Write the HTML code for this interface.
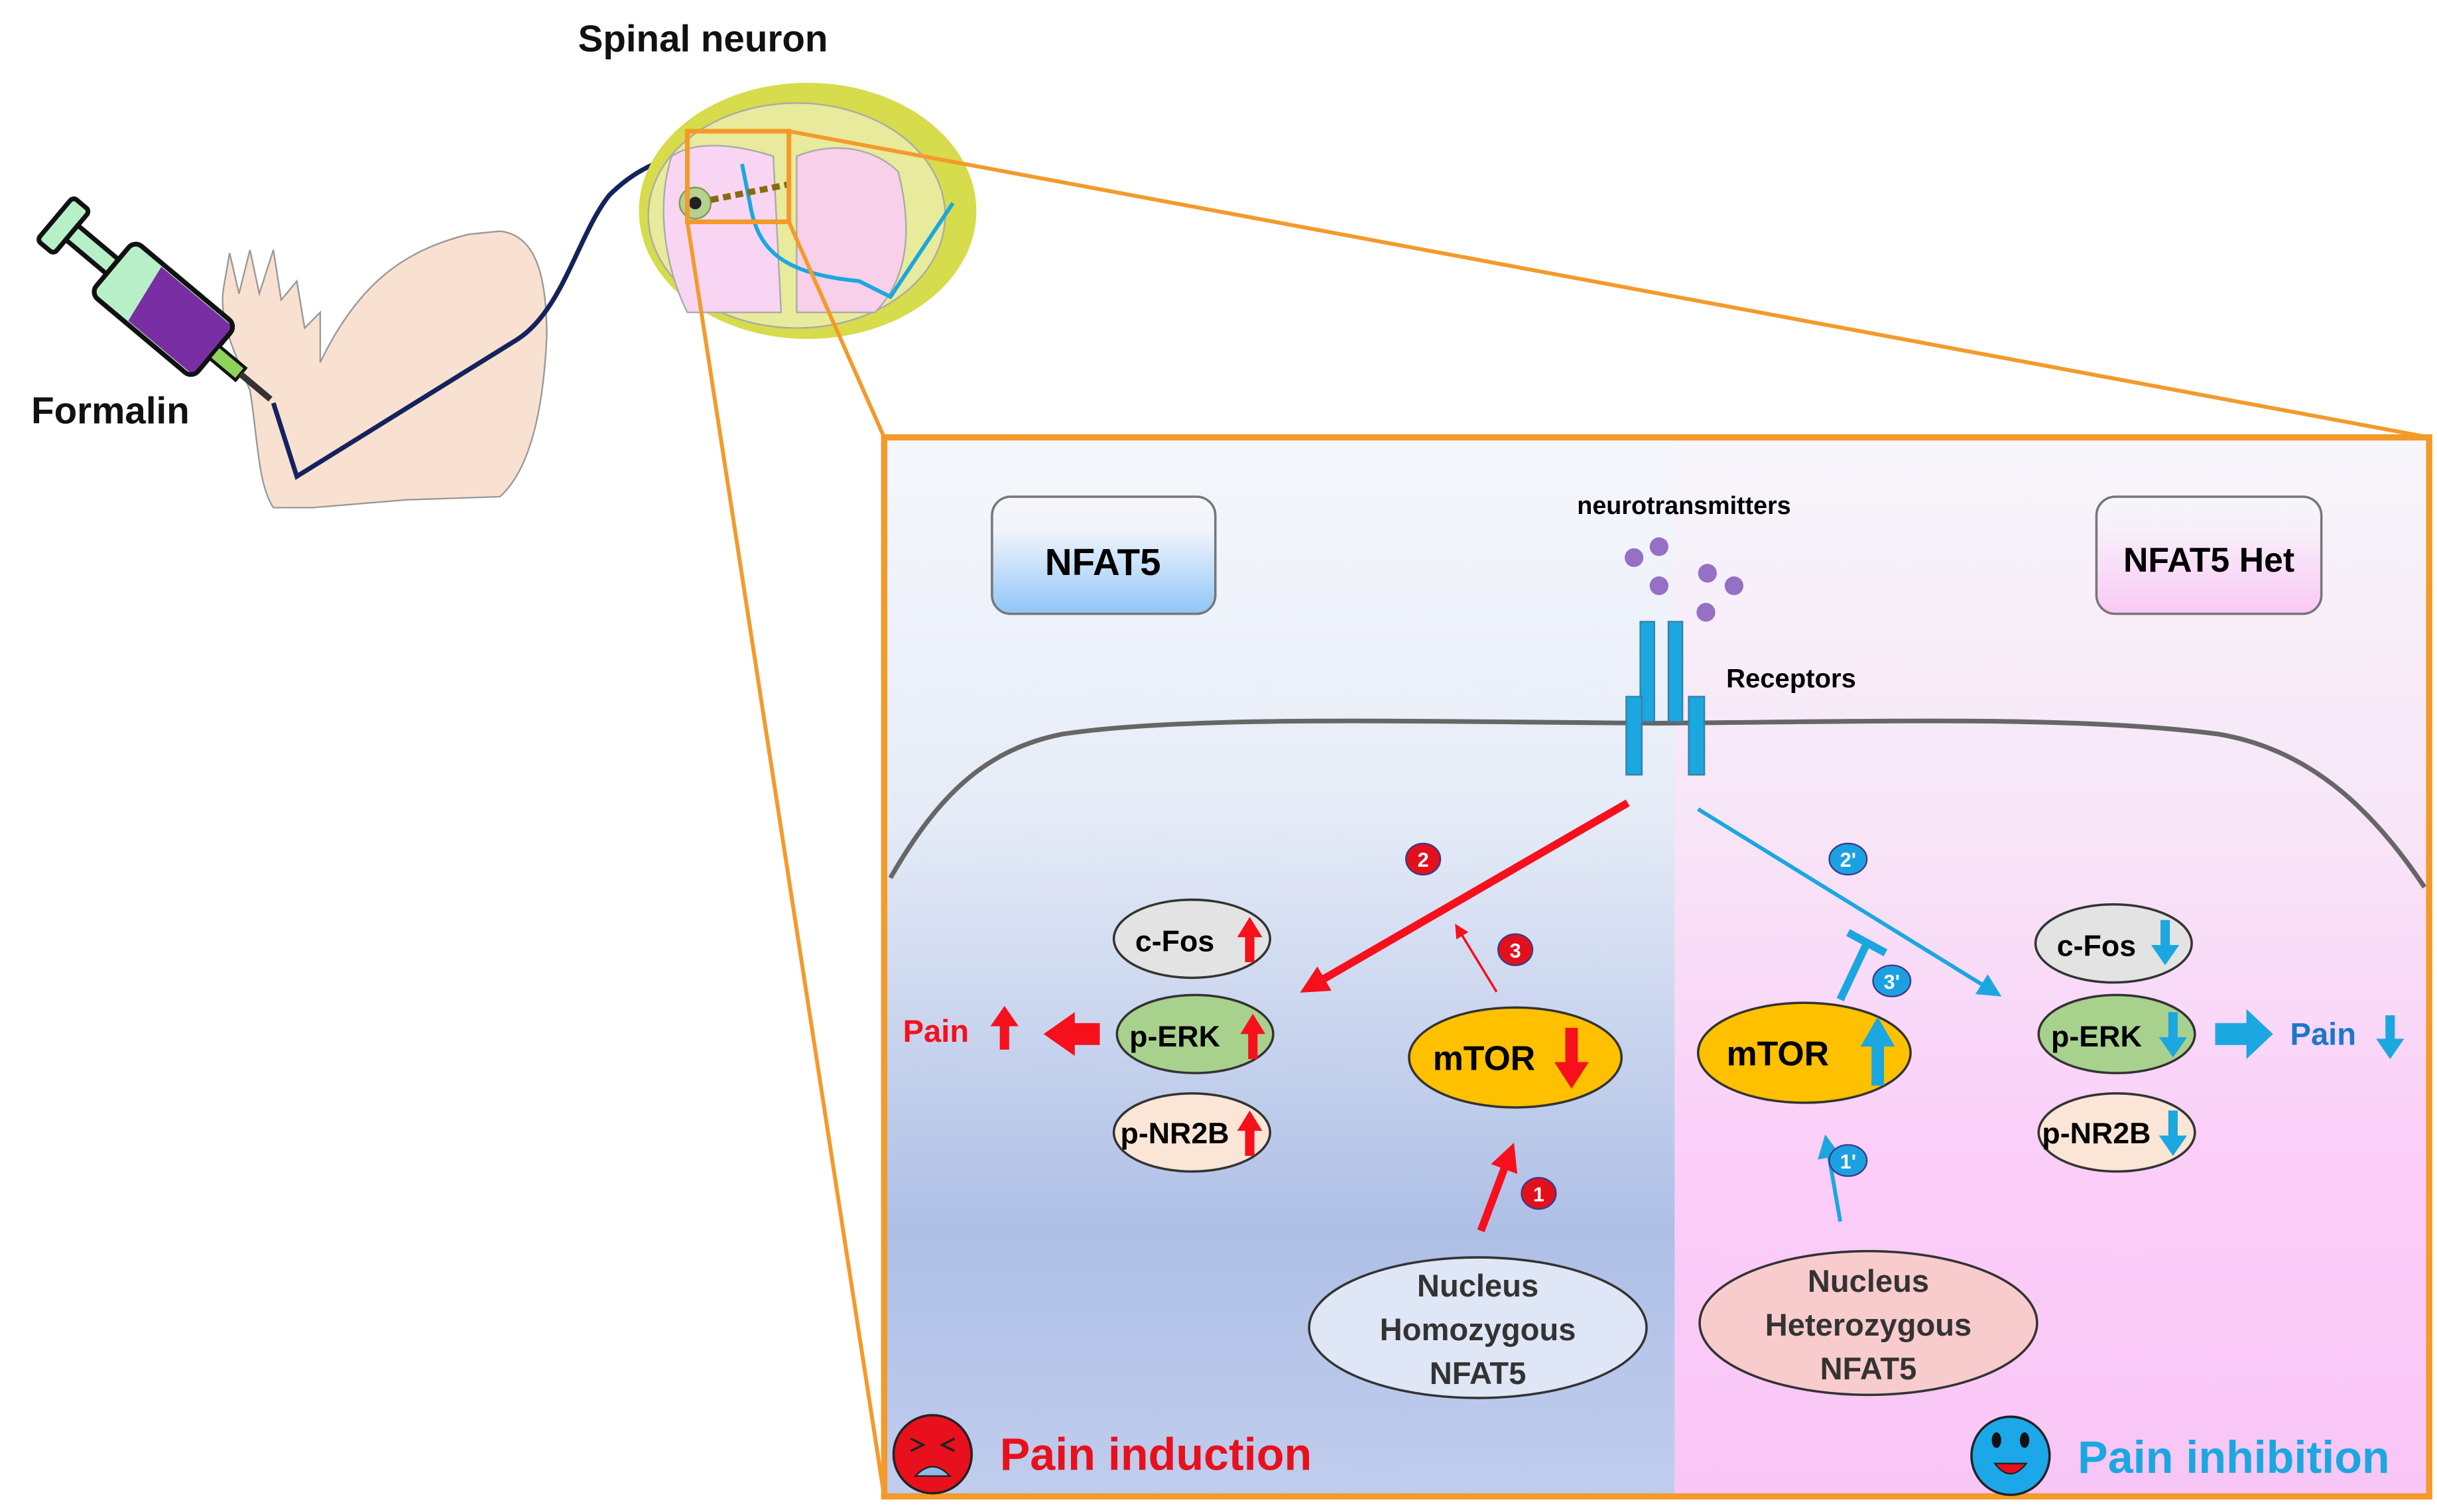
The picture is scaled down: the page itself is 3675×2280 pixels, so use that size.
<!DOCTYPE html>
<html><head><meta charset="utf-8"><style>
html,body{margin:0;padding:0;background:#fff;}
svg{display:block;}
text{font-family:"Liberation Sans",Arial,sans-serif;font-weight:bold;}
</style></head><body>
<svg width="3675" height="2280" viewBox="0 0 1560 968" preserveAspectRatio="none" xmlns="http://www.w3.org/2000/svg">
<defs>
<linearGradient id="gl" x1="0" y1="0" x2="0" y2="1"><stop offset="0" stop-color="#f6f7fc"/><stop offset="0.35" stop-color="#e6ecf7"/><stop offset="0.75" stop-color="#aebfe6"/><stop offset="1" stop-color="#c1cdee"/></linearGradient>
<linearGradient id="gr" x1="0" y1="0" x2="0" y2="1"><stop offset="0" stop-color="#f7f6fb"/><stop offset="0.35" stop-color="#f7e6f7"/><stop offset="0.7" stop-color="#fbcdf8"/><stop offset="1" stop-color="#f8c6f6"/></linearGradient>
<linearGradient id="bb" x1="0" y1="0" x2="0" y2="1"><stop offset="0" stop-color="#f6f7fc"/><stop offset="0.3" stop-color="#f0f3fb"/><stop offset="1" stop-color="#8fc6f7"/></linearGradient>
<linearGradient id="pb" x1="0" y1="0" x2="0" y2="1"><stop offset="0" stop-color="#f6f7fc"/><stop offset="0.3" stop-color="#f7eef9"/><stop offset="1" stop-color="#fac8f6"/></linearGradient>
<marker id="ar" viewBox="0 0 6 6" markerWidth="6" markerHeight="6" refX="4" refY="3" orient="auto" markerUnits="strokeWidth"><path d="M0,0 L6,3 L0,6 z" fill="#f5101c"/></marker>
<marker id="ar2" viewBox="0 0 6 6" markerWidth="3.6" markerHeight="3.6" refX="3" refY="3" orient="auto" markerUnits="strokeWidth"><path d="M0,0 L6,3 L0,6 z" fill="#f5101c"/></marker>
<marker id="ab" viewBox="0 0 8 8" markerWidth="6" markerHeight="6" refX="6" refY="4" orient="auto" markerUnits="strokeWidth"><path d="M0,0 L8,4 L0,8 z" fill="#1aa7e0"/></marker>
</defs>

<text x="370" y="33" font-size="24" fill="#111">Spinal neuron</text>
<text x="20" y="271" font-size="24" fill="#111">Formalin</text>

<!-- leg -->
<path d="M160,250 C150,225 140,205 143,185 L147,162 L153,188 L160,160 L166,188 L175,160 L180,192 L190,180 L195,210 L205,200 L205,232 C230,180 260,160 300,150 L320,148 C340,150 350,170 350,215 C348,260 340,300 320,318 L260,320 L200,325 L175,325 C165,310 165,280 160,250 Z" fill="#f9e1d1" stroke="#999" stroke-width="1"/>
<!-- syringe -->
<g transform="translate(95,190) rotate(-50)">
<rect x="-18" y="-78" width="36" height="14" rx="3" fill="#b7f0c7" stroke="#111" stroke-width="3"/>
<rect x="-6" y="-64" width="12" height="34" fill="#b7f0c7" stroke="#111" stroke-width="3"/>
<rect x="-22" y="-30" width="44" height="85" rx="6" fill="#b7f0c7" stroke="#111" stroke-width="3"/>
<path d="M-20,0 L20,-6 L20,50 Q20,55 14,55 L-14,55 Q-20,55 -20,50 Z" fill="#7a2ea3"/>
<rect x="-22" y="-30" width="44" height="85" rx="6" fill="none" stroke="#111" stroke-width="3"/>
<rect x="-5" y="55" width="10" height="22" fill="#8fd35a" stroke="#111" stroke-width="2"/>
<rect x="-2" y="77" width="4" height="25" fill="#333"/>
</g>
<path d="M175,258 L190,305 L330,218 C360,200 370,150 390,125 C410,105 430,100 445,98 L470,100" fill="none" stroke="#14235e" stroke-width="3"/>
<!-- spinal cord -->
<ellipse cx="517" cy="135" rx="108" ry="82" fill="#d6dc4b"/>
<ellipse cx="510" cy="138" rx="95" ry="72" fill="#e8ea9c" stroke="#aaa" stroke-width="1"/>
<path d="M430,100 C445,90 470,92 495,100 L500,200 L440,200 C425,170 420,130 430,100 Z" fill="#f8d6f3" stroke="#aaa"/>
<path d="M510,100 C535,90 560,95 575,110 C585,150 580,180 560,200 L510,200 Z" fill="#f8d0ea" stroke="#aaa"/>
<path d="M475,105 L480,130 C485,160 500,175 550,180 L570,190 L610,130" fill="none" stroke="#1ba7e0" stroke-width="2.5"/>
<circle cx="445" cy="130" r="10" fill="#b5d08f" stroke="#7a9a50"/>
<circle cx="445" cy="130" r="4" fill="#222"/>
<path d="M455,128 L505,118" stroke="#8a6a10" stroke-width="4" stroke-dasharray="5,3"/>
<rect x="440" y="84" width="65" height="58" fill="none" stroke="#f39a2b" stroke-width="3"/>
<line x1="505" y1="84" x2="1555" y2="280" stroke="#f39a2b" stroke-width="2.5"/>
<line x1="505" y1="142" x2="566" y2="280" stroke="#f39a2b" stroke-width="2.5"/>
<line x1="440" y1="142" x2="566" y2="958" stroke="#f39a2b" stroke-width="2.5"/>

<rect x="566" y="280" width="506" height="678" fill="url(#gl)"/>
<rect x="1072" y="280" width="483" height="678" fill="url(#gr)"/>
<rect x="566" y="280" width="989" height="678" fill="none" stroke="#f39a2b" stroke-width="4"/>

<path d="M570,562 C600,510 630,480 680,470 C760,458 900,462 1060,463 C1200,462 1330,458 1420,470 C1480,480 1520,520 1552,568" fill="none" stroke="#666" stroke-width="3"/>

<rect x="635" y="318" width="143" height="75" rx="12" fill="url(#bb)" stroke="#777" stroke-width="1.5"/>
<text x="706" y="368" font-size="24" text-anchor="middle" fill="#000">NFAT5</text>
<rect x="1342" y="318" width="144" height="75" rx="12" fill="url(#pb)" stroke="#777" stroke-width="1.5"/>
<text x="1414" y="366" font-size="22" text-anchor="middle" fill="#000">NFAT5 Het</text>

<text x="1078" y="329" font-size="16" text-anchor="middle" fill="#000">neurotransmitters</text>
<g fill="#9570c4"><circle cx="1046" cy="357" r="6"/><circle cx="1062" cy="350" r="6"/><circle cx="1062" cy="375" r="6"/><circle cx="1093" cy="367" r="6"/><circle cx="1110" cy="375" r="6"/><circle cx="1092" cy="392" r="6"/></g>
<g fill="#1ba7e0" stroke="#3a7ea8" stroke-width="1">
<rect x="1050" y="398" width="9" height="64"/><rect x="1068" y="398" width="9" height="64"/>
<rect x="1041" y="446" width="10" height="50"/><rect x="1081" y="446" width="10" height="50"/></g>
<text x="1105" y="440" font-size="17" fill="#000">Receptors</text>

<line x1="1042" y1="514" x2="840" y2="631" stroke="#f5101c" stroke-width="5" marker-end="url(#ar2)"/>
<line x1="1087" y1="518" x2="1278" y2="636" stroke="#1aa7e0" stroke-width="2.5" marker-end="url(#ab)"/>
<line x1="958" y1="635" x2="933" y2="594" stroke="#f5101c" stroke-width="1.5" marker-end="url(#ar)"/>
<line x1="948" y1="788" x2="966" y2="740" stroke="#f5101c" stroke-width="5" marker-end="url(#ar2)"/>
<line x1="1178" y1="782" x2="1169" y2="730" stroke="#1aa7e0" stroke-width="2.5" marker-end="url(#ab)"/>
<line x1="1178" y1="640" x2="1195" y2="604" stroke="#1aa7e0" stroke-width="5"/>
<line x1="1183" y1="597" x2="1207" y2="610" stroke="#1aa7e0" stroke-width="5"/>

<g font-size="13" text-anchor="middle" fill="#fff">
<ellipse cx="911" cy="550" rx="11" ry="10" fill="#e3101c" stroke="#3a3a8a" stroke-width="1"/><text x="911" y="555">2</text>
<ellipse cx="970" cy="608" rx="11" ry="10" fill="#e3101c" stroke="#3a3a8a" stroke-width="1"/><text x="970" y="613">3</text>
<ellipse cx="985" cy="764" rx="11" ry="10" fill="#e3101c" stroke="#3a3a8a" stroke-width="1"/><text x="985" y="769">1</text>
<ellipse cx="1183" cy="550" rx="12" ry="10" fill="#1ba1e2" stroke="#3a3a8a" stroke-width="1"/><text x="1183" y="555">2'</text>
<ellipse cx="1211" cy="628" rx="12" ry="10" fill="#1ba1e2" stroke="#3a3a8a" stroke-width="1"/><text x="1211" y="633">3'</text>
<ellipse cx="1183" cy="743" rx="12" ry="10" fill="#1ba1e2" stroke="#3a3a8a" stroke-width="1"/><text x="1183" y="748">1'</text>
</g>

<g stroke="#333" stroke-width="1.5">
<ellipse cx="763" cy="601" rx="50" ry="25" fill="#e3e3e3"/>
<ellipse cx="765" cy="662" rx="50" ry="25" fill="#a9d18e"/>
<ellipse cx="763" cy="725" rx="50" ry="25" fill="#fbe5d6"/>
<ellipse cx="1353" cy="604" rx="50" ry="25" fill="#e3e3e3"/>
<ellipse cx="1355" cy="662" rx="50" ry="25" fill="#a9d18e"/>
<ellipse cx="1355" cy="725" rx="50" ry="25" fill="#fbe5d6"/>
<ellipse cx="970" cy="677" rx="68" ry="32" fill="#ffc000"/>
<ellipse cx="1155" cy="674" rx="68" ry="32" fill="#ffc000"/>
<ellipse cx="946" cy="850" rx="108" ry="45" fill="#dfe6f5"/>
<ellipse cx="1196" cy="847" rx="108" ry="46" fill="#f8cccc"/>
</g>
<g font-size="19" fill="#000" text-anchor="middle">
<text x="752" y="609">c-Fos</text><text x="752" y="670">p-ERK</text><text x="752" y="732">p-NR2B</text>
<text x="1342" y="612">c-Fos</text><text x="1342" y="670">p-ERK</text><text x="1342" y="732">p-NR2B</text>
</g>
<g font-size="22" fill="#000" text-anchor="middle"><text x="950" y="685">mTOR</text><text x="1138" y="682">mTOR</text></g>
<g font-size="20" fill="#333" text-anchor="middle">
<text x="946" y="830">Nucleus</text><text x="946" y="858">Homozygous</text><text x="946" y="886">NFAT5</text>
<text x="1196" y="827">Nucleus</text><text x="1196" y="855">Heterozygous</text><text x="1196" y="883">NFAT5</text>
</g>
<g fill="#f5101c">
<path d="M797,616 L797,600 L792,600 L800,587 L808,600 L803,600 L803,616Z"/>
<path d="M799,678 L799,662 L794,662 L802,649 L810,662 L805,662 L805,678Z"/>
<path d="M797,740 L797,724 L792,724 L800,711 L808,724 L803,724 L803,740Z"/>
<path d="M1002,658 L1002,680 L995,680 L1006,697 L1017,680 L1010,680 L1010,658Z"/>
<path d="M640,672 L640,657 L634,657 L643,644 L652,657 L646,657 L646,672Z"/>
<path d="M704,655 L688,655 L688,648 L668,662 L688,676 L688,669 L704,669Z"/>
</g>
<g fill="#1ba7e0">
<path d="M1383,589 L1383,605 L1377,605 L1386,618 L1395,605 L1389,605 L1389,589Z"/>
<path d="M1388,648 L1388,664 L1382,664 L1391,677 L1400,664 L1394,664 L1394,648Z"/>
<path d="M1388,711 L1388,727 L1382,727 L1391,740 L1400,727 L1394,727 L1394,711Z"/>
<path d="M1198,695 L1198,670 L1191,670 L1202,651 L1213,670 L1206,670 L1206,695Z"/>
<path d="M1527,650 L1527,665 L1521,665 L1530,678 L1539,665 L1533,665 L1533,650Z"/>
<path d="M1418,655 L1438,655 L1438,646 L1455,662 L1438,678 L1438,669 L1418,669Z"/>
</g>
<text x="578" y="667" font-size="20" fill="#f5101c">Pain</text>
<text x="1466" y="669" font-size="20" fill="#1b78c9">Pain</text>

<circle cx="597" cy="931" r="25" fill="#e8101c" stroke="#222" stroke-width="1.5"/>
<path d="M583,921 L591,925 L583,929 M611,921 L603,925 L611,929" stroke="#222" stroke-width="1.5" fill="none"/>
<path d="M586,945 Q597,933 608,945 Z" fill="#8fb8e8" stroke="#222" stroke-width="1"/>
<text x="640" y="941" font-size="29" fill="#e8101c">Pain induction</text>
<circle cx="1287" cy="932" r="25" fill="#1ba7e8" stroke="#222" stroke-width="1.5"/>
<ellipse cx="1278" cy="922" rx="3" ry="5" fill="#111"/><ellipse cx="1296" cy="922" rx="3" ry="5" fill="#111"/>
<path d="M1277,937 Q1287,950 1297,937 Z" fill="#e8101c" stroke="#222" stroke-width="1"/>
<text x="1330" y="943" font-size="29" fill="#1ba7e0">Pain inhibition</text>
</svg>
</body></html>
